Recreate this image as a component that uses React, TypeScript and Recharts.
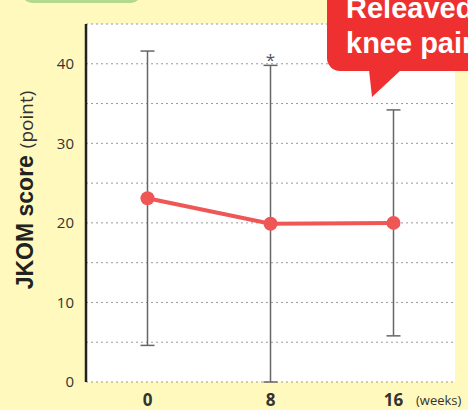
import React from 'react';
import { LineChart, Line, XAxis, YAxis, CartesianGrid, ErrorBar, LabelList } from 'recharts';

// JKOM score over time (mean ± SD)
const weeks = [0, 8, 16];
const meanScore = [23.1, 19.9, 20.0];
const sdScore = [18.5, 19.9, 14.2];
const significance = ['', '*', ''];
const xTicks = [0, 8, 16];
const yTicks = [0, 5, 10, 15, 20, 25, 30, 35, 40];

const rows = weeks.map((w, i) => ({
  week: w,
  mean: meanScore[i],
  sd: sdScore[i],
  upper: meanScore[i] + sdScore[i],
  sig: significance[i],
}));

const BG = '#FFF9BE';
const LINE_RED = '#EF5757';
const BUBBLE_RED = '#EE3030';
const SANS = '"Open Sans", "Noto Sans", sans-serif';
const HELV = "'Liberation Sans', Arial, sans-serif";

const App: React.FC = () => {
  return (
    <div style={{ position: 'fixed', left: 0, top: 0, width: 468, height: 410, background: BG, overflow: 'hidden' }}>
      <LineChart width={468} height={410} data={rows} margin={{ top: 24, right: 13, left: 0, bottom: 0 }}>
        <CartesianGrid vertical={false} fill="#fff" stroke="#9a9a9a" strokeDasharray="2 3" />
        <XAxis
          type="number"
          dataKey="week"
          domain={[-4, 20]}
          ticks={xTicks}
          axisLine={false}
          tickLine={false}
          height={28}
          tickMargin={6}
          tick={{ fontSize: 17, fontWeight: 700, fill: '#333', fontFamily: SANS }}
        />
        <YAxis
          domain={[0, 45]}
          ticks={yTicks}
          width={86}
          axisLine={{ stroke: '#222', strokeWidth: 2.5 }}
          tickLine={false}
          tickMargin={6}
          tickFormatter={(v: number) => (v % 10 === 0 ? String(v) : '')}
          tick={{ fontSize: 15, fill: '#333', fontFamily: SANS }}
        />
        <Line dataKey="upper" stroke="none" dot={false} activeDot={false} isAnimationActive={false}>
          <LabelList dataKey="sig" position="top" offset={-1} fill="#555" fontSize={17} fontFamily={SANS} />
        </Line>
        <Line
          dataKey="mean"
          stroke={LINE_RED}
          strokeWidth={4}
          dot={{ r: 7, fill: LINE_RED, stroke: 'none' }}
          activeDot={false}
          isAnimationActive={false}
        >
          <ErrorBar dataKey="sd" direction="y" width={7} stroke="#666" strokeWidth={1.5} />
        </Line>
      </LineChart>

      <svg width={468} height={410} style={{ position: 'absolute', left: 0, top: 0, pointerEvents: 'none' }}>
        {/* green tag at the top, mostly cut off */}
        <rect x={22} y={-30} width={119} height={33} rx={10} fill="#B3DA8C" />

        {/* callout bubble */}
        <rect x={327} y={-20} width={170} height={91} rx={13} fill={BUBBLE_RED} />
        <path d="M369 70 L372 97 L401 70 Z" fill={BUBBLE_RED} />
        <text x={346} y={18} fill="#fff" fontSize={29} fontWeight={700} fontFamily={HELV}>
          Releaved
        </text>
        <text x={346} y={53} fill="#fff" fontSize={29} fontWeight={700} fontFamily={HELV}>
          knee pain
        </text>

        {/* y-axis title */}
        <text transform="translate(33 190) rotate(-90)" textAnchor="middle" fill="#222">
          <tspan fontSize={23} fontWeight={700} fontFamily={HELV}>JKOM score</tspan>
          <tspan dx={7} fontSize={19} fontFamily={SANS} fill="#333">(point)</tspan>
        </text>

        {/* x-axis unit */}
        <text x={416} y={405} fontSize={13} fill="#333" fontFamily={SANS}>
          (weeks)
        </text>
      </svg>
    </div>
  );
};

export default App;
